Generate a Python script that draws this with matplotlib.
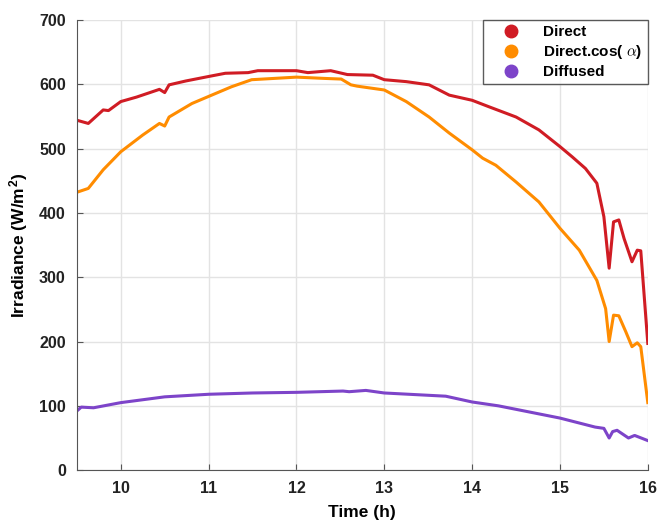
import numpy as np
import matplotlib.pyplot as plt
from matplotlib.lines import Line2D

plt.rcParams['font.family'] = ['Liberation Sans', 'DejaVu Sans']
plt.rcParams['font.weight'] = 'bold'
plt.rcParams['mathtext.fontset'] = 'cm'

# Direct
t_dir = [9.50, 9.63, 9.80, 9.86, 10.00, 10.18, 10.44, 10.50, 10.55, 10.74, 11.00, 11.19,
         11.45, 11.56, 12.00, 12.13, 12.39, 12.58, 12.87, 13.00, 13.25, 13.51, 13.74, 14.00,
         14.19, 14.50, 14.76, 15.00, 15.14, 15.29, 15.42, 15.50, 15.56, 15.61, 15.67, 15.73,
         15.82, 15.88, 15.92, 16.00]
direct = [544, 539, 560, 559, 573, 580, 592, 587, 599, 605, 612, 617,
          618, 621, 621, 618, 621, 615, 614, 607, 604, 599, 583, 575,
          565, 549, 529, 503, 487, 469, 446, 394, 314, 386, 389, 360,
          324, 342, 341, 197]

# Direct.cos(alpha)
t_cos = [9.50, 9.63, 9.80, 10.00, 10.25, 10.44, 10.50, 10.55, 10.81, 11.00, 11.26, 11.49,
         12.00, 12.32, 12.51, 12.62, 12.69, 13.00, 13.25, 13.51, 13.74, 14.00, 14.12, 14.27,
         14.50, 14.76, 15.00, 15.22, 15.42, 15.52, 15.56, 15.61, 15.67, 15.75, 15.82, 15.88,
         15.92, 16.00]
direct_cos = [432, 438, 467, 495, 521, 539, 535, 549, 570, 581, 596, 607,
              611, 609, 608, 599, 597, 591, 573, 549, 524, 498, 485, 474,
              448, 417, 376, 342, 295, 251, 200, 241, 240, 215, 192, 198,
              192, 105]

# Diffused
t_dif = [9.50, 9.55, 9.69, 10.00, 10.50, 11.00, 11.50, 12.00, 12.53, 12.60, 12.79, 13.00,
         13.70, 14.00, 14.30, 15.00, 15.40, 15.50, 15.56, 15.60, 15.65, 15.78, 15.85, 16.00]
diffused = [92, 98, 97, 105, 114, 118, 120, 121, 123, 122, 124, 120,
            115, 106, 100, 81, 67, 65, 50, 60, 62, 50, 54, 46]

names = ['Direct', r'Direct.cos( $\alpha$)', 'Diffused']
colors = ['#d01c24', '#ff8c00', '#7d44c9']

fig = plt.figure(figsize=(6.57, 5.23), dpi=100)
ax = fig.add_axes([0.117, 0.101, 0.869, 0.861])

ax.plot(t_dir, direct, color=colors[0], lw=2.2)
ax.plot(t_cos, direct_cos, color=colors[1], lw=2.2)
ax.plot(t_dif, diffused, color=colors[2], lw=2.2)

ax.set_xlim(9.5, 16)
ax.set_ylim(0, 700)
ax.set_xticks(range(10, 17))
ax.set_yticks(range(0, 701, 100))
ax.grid(True, color='#e3e3e3', lw=1)
ax.set_axisbelow(True)
for s in ['top', 'right']:
    ax.spines[s].set_visible(False)
for s in ['left', 'bottom']:
    ax.spines[s].set_color('#555555')
ax.tick_params(direction='in', length=4, color='#555555', labelsize=11.5, pad=8)
for lab in ax.get_xticklabels() + ax.get_yticklabels():
    lab.set_fontweight('bold')
    lab.set_color('#222222')

ax.set_xlabel('Time (h)', fontsize=12.5, fontweight='bold', labelpad=6)
ax.set_ylabel('Irradiance (W/m$^\\mathregular{2}$)', fontsize=12.5, fontweight='bold', labelpad=6)

handles = [Line2D([], [], ls='none', marker='o', ms=9, color=c) for c in colors]
leg = ax.legend(handles, names, loc='upper right', bbox_to_anchor=(1.0, 1.0),
                fontsize=11, frameon=True, fancybox=False, borderaxespad=0,
                handlelength=3, handletextpad=0.6, labelspacing=0.25, borderpad=0.35)
leg.get_frame().set_edgecolor('#333333')
leg.get_frame().set_linewidth(1)
for txt in leg.get_texts():
    txt.set_fontweight('bold')

fig.savefig('out.png', dpi=100)
